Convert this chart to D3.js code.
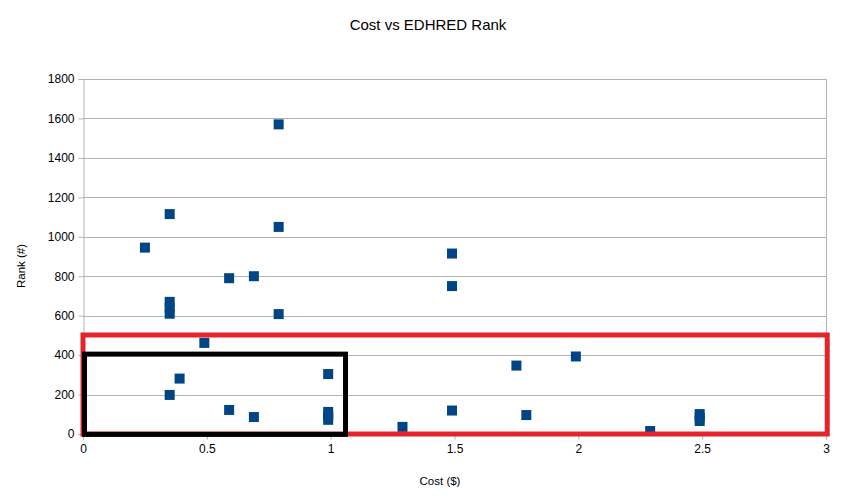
<!DOCTYPE html>
<html>
<head>
<meta charset="utf-8">
<script src="https://cdn.jsdelivr.net/npm/d3@7/dist/d3.min.js"></script>
<style>
  html, body { margin: 0; padding: 0; background: #fff; }
  svg { display: block; font-family: "Liberation Sans", Arial, sans-serif; }
</style>
</head>
<body>
<svg id="chart" width="865" height="501"></svg>
<script>
// ---- data ----
const cost = [0.25, 0.35, 0.79, 0.79, 0.59, 0.69, 0.35, 0.35, 0.35, 0.79, 0.49, 1.49, 1.49,
              0.39, 0.35, 0.59, 0.69, 0.99, 0.99, 0.99, 0.99, 1.75, 1.99, 1.49, 1.79, 1.29,
              2.29, 2.49, 2.49, 2.49];
const rank = [945, 1115, 1570, 1050, 790, 800, 670, 640, 610, 608, 462, 915, 750,
              281, 198, 122, 86, 304, 112, 92, 72, 347, 393, 119, 96, 36,
              15, 101, 84, 66];
const xTicks = [0, 0.5, 1, 1.5, 2, 2.5, 3];
const yTicks = [0, 200, 400, 600, 800, 1000, 1200, 1400, 1600, 1800];
// annotation boxes: [x0, x1, y0, y1] in data units
const redBox = [0, 3.005, 0, 502];
const blackBox = [0.006, 1.06, -2, 405];
const titleText = "Cost vs EDHRED Rank";
const xTitle = "Cost ($)";
const yTitle = "Rank (#)";

// ---- layout ----
const svg = d3.select("#chart");
const x = d3.scaleLinear().domain([0, 3]).range([83, 826]);
const y = d3.scaleLinear().domain([0, 1800]).range([434, 79]);
const grid = "#b3b3b3";

// gridlines
svg.append("g").selectAll("line").data(yTicks).join("line")
  .attr("x1", x(0)).attr("x2", x(3))
  .attr("y1", d => Math.round(y(d)) + 0.5).attr("y2", d => Math.round(y(d)) + 0.5)
  .attr("stroke", grid).attr("stroke-width", 1);

// right border
svg.append("line")
  .attr("x1", Math.round(x(3)) + 0.5).attr("x2", Math.round(x(3)) + 0.5)
  .attr("y1", y(1800)).attr("y2", y(0))
  .attr("stroke", grid);

// axes
const yAxis = d3.axisLeft(y).tickValues(yTicks).tickSize(5).tickPadding(4).tickFormat(d3.format("d"));
const gy = svg.append("g").attr("transform", `translate(${Math.round(x(0)) + 0.5},0)`).call(yAxis);
const xAxis = d3.axisBottom(x).tickValues(xTicks).tickSize(5).tickPadding(5).tickFormat(d => String(d));
const gx = svg.append("g").attr("transform", `translate(0,${Math.round(y(0)) + 0.5})`).call(xAxis);
[gx, gy].forEach(g => {
  g.select(".domain").attr("stroke", grid);
  g.selectAll(".tick line").attr("stroke", grid);
  g.selectAll(".tick text").attr("fill", "#000").style("font-size", "12px")
    .style("font-family", "'Liberation Sans', Arial, sans-serif");
});
gy.selectAll(".tick line").attr("x2", -5);

// points
const pts = cost.map((c, i) => ({ c, r: rank[i] }));
svg.append("g").selectAll("rect").data(pts).join("rect")
  .attr("x", d => x(d.c) - 5).attr("y", d => y(d.r) - 5)
  .attr("width", 10).attr("height", 10)
  .attr("fill", "#004586");

// annotation boxes
function box(b, color) {
  svg.append("rect")
    .attr("x", x(b[0])).attr("y", y(b[3]))
    .attr("width", x(b[1]) - x(b[0])).attr("height", y(b[2]) - y(b[3]))
    .attr("fill", "none").attr("stroke", color).attr("stroke-width", 5);
}
box(redBox, "#e3242b");
box(blackBox, "#000");

// titles
svg.append("text").attr("x", 428).attr("y", 30).attr("text-anchor", "middle")
  .style("font-size", "15px").attr("fill", "#000").text(titleText);
svg.append("text").attr("x", 440).attr("y", 485).attr("text-anchor", "middle")
  .style("font-size", "11.5px").attr("fill", "#000").text(xTitle);
svg.append("text").attr("transform", "translate(25,266) rotate(-90)").attr("text-anchor", "middle")
  .style("font-size", "11.5px").attr("fill", "#000").text(yTitle);
</script>
</body>
</html>
